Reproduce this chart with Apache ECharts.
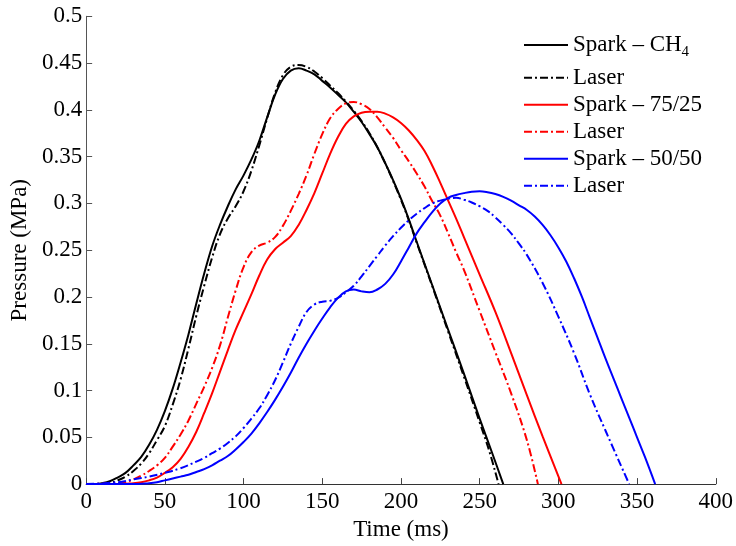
<!DOCTYPE html>
<html>
<head>
<meta charset="utf-8">
<script src="https://cdn.jsdelivr.net/npm/echarts@6/dist/echarts.min.js"></script>
<style>
html, body { margin: 0; padding: 0; background: #fff; }
#mychart { width: 736px; height: 546px; }
</style>
</head>
<body>
<div id="mychart"></div>
<script>
// axis ticks
var timeTicks = [0, 50, 100, 150, 200, 250, 300, 350, 400];
var pressureTicks = [0, 0.05, 0.1, 0.15, 0.2, 0.25, 0.3, 0.35, 0.4, 0.45, 0.5];

// legend names (zero width spaces keep the three "Laser" entries apart)
var seriesNames = ['Spark – CH4', 'Laser', 'Spark – 75/25', 'Laser\u200b', 'Spark – 50/50', 'Laser\u200b\u200b'];

// Spark - CH4
var sparkCh4Time = [0, 5, 10, 15, 20, 25, 30, 35, 40, 45, 50, 55, 60, 65, 70, 75, 80, 85, 90, 95, 100, 105, 110, 115, 120, 125, 130, 135, 140, 145, 150, 155, 160, 165, 170, 175, 180, 185, 190, 195, 200, 205, 210, 220, 230, 240, 250, 258, 265];
var sparkCh4Pressure = [0, 0, 0.001, 0.003, 0.007, 0.012, 0.02, 0.029, 0.042, 0.058, 0.078, 0.102, 0.13, 0.16, 0.193, 0.225, 0.254, 0.277, 0.297, 0.315, 0.33, 0.347, 0.367, 0.392, 0.416, 0.433, 0.442, 0.4445, 0.442, 0.438, 0.431, 0.424, 0.416, 0.408, 0.398, 0.387, 0.374, 0.36, 0.343, 0.325, 0.305, 0.283, 0.259, 0.212, 0.165, 0.118, 0.07, 0.033, 0];
// Laser - CH4
var laserCh4Time = [0, 10, 15, 20, 25, 30, 35, 40, 45, 50, 55, 60, 65, 70, 75, 80, 85, 90, 95, 100, 105, 110, 115, 120, 125, 130, 135, 140, 145, 150, 155, 160, 165, 170, 175, 180, 185, 190, 195, 200, 205, 210, 220, 230, 240, 250, 256, 262];
var laserCh4Pressure = [0, 0, 0.001, 0.004, 0.008, 0.014, 0.022, 0.033, 0.047, 0.062, 0.085, 0.112, 0.145, 0.18, 0.212, 0.242, 0.267, 0.284, 0.297, 0.313, 0.335, 0.362, 0.391, 0.418, 0.437, 0.446, 0.448, 0.446, 0.441, 0.434, 0.426, 0.418, 0.409, 0.399, 0.388, 0.375, 0.36, 0.343, 0.324, 0.304, 0.282, 0.258, 0.211, 0.163, 0.115, 0.066, 0.036, 0];

// Spark - 75/25
var spark7525Time = [0, 20, 30, 35, 40, 45, 50, 55, 60, 65, 70, 75, 80, 85, 90, 95, 100, 105, 110, 115, 120, 125, 130, 135, 140, 145, 150, 155, 160, 165, 170, 175, 180, 185, 190, 195, 200, 205, 210, 215, 220, 225, 230, 235, 240, 250, 260, 270, 280, 290, 302];
var spark7525Pressure = [0, 0, 0.001, 0.002, 0.004, 0.007, 0.012, 0.018, 0.027, 0.04, 0.056, 0.076, 0.097, 0.12, 0.143, 0.165, 0.184, 0.203, 0.223, 0.24, 0.251, 0.258, 0.265, 0.277, 0.293, 0.311, 0.332, 0.353, 0.371, 0.385, 0.393, 0.397, 0.398, 0.398, 0.396, 0.392, 0.386, 0.378, 0.368, 0.356, 0.34, 0.322, 0.303, 0.284, 0.264, 0.224, 0.184, 0.14, 0.095, 0.051, 0];
// Laser - 75/25
var laser7525Time = [0, 20, 25, 30, 35, 40, 45, 50, 55, 60, 65, 70, 75, 80, 85, 90, 95, 100, 105, 110, 115, 120, 125, 130, 135, 140, 145, 150, 155, 160, 165, 170, 175, 180, 185, 190, 195, 200, 205, 210, 215, 220, 225, 230, 235, 240, 250, 260, 270, 280, 287];
var laser7525Pressure = [0, 0.001, 0.002, 0.005, 0.009, 0.014, 0.02, 0.028, 0.04, 0.053, 0.068, 0.086, 0.104, 0.124, 0.148, 0.178, 0.207, 0.232, 0.248, 0.255, 0.258, 0.264, 0.276, 0.292, 0.31, 0.33, 0.353, 0.374, 0.391, 0.401, 0.407, 0.4085, 0.406, 0.401, 0.392, 0.381, 0.37, 0.357, 0.345, 0.332, 0.318, 0.302, 0.287, 0.268, 0.248, 0.229, 0.185, 0.141, 0.097, 0.047, 0];

// Spark - 50/50
var spark5050Time = [0, 30, 40, 45, 50, 55, 60, 65, 70, 75, 80, 85, 90, 95, 100, 105, 110, 115, 120, 125, 130, 135, 140, 145, 150, 155, 160, 165, 170, 175, 180, 185, 190, 195, 200, 205, 210, 215, 220, 225, 230, 235, 240, 245, 250, 255, 260, 265, 270, 275, 280, 285, 290, 295, 300, 305, 310, 315, 320, 325, 330, 335, 340, 345, 350, 355, 361.5];
var spark5050Pressure = [0, 0, 0.001, 0.002, 0.004, 0.006, 0.008, 0.01, 0.013, 0.016, 0.02, 0.025, 0.03, 0.037, 0.045, 0.054, 0.065, 0.077, 0.09, 0.104, 0.119, 0.135, 0.15, 0.164, 0.177, 0.189, 0.199, 0.206, 0.208, 0.206, 0.205, 0.208, 0.214, 0.224, 0.238, 0.253, 0.268, 0.28, 0.291, 0.3, 0.306, 0.309, 0.311, 0.3125, 0.313, 0.312, 0.31, 0.307, 0.303, 0.298, 0.293, 0.286, 0.277, 0.266, 0.253, 0.238, 0.22, 0.2, 0.178, 0.156, 0.134, 0.113, 0.092, 0.071, 0.05, 0.029, 0];
// Laser - 50/50
var laser5050Time = [0, 20, 30, 40, 50, 60, 70, 75, 80, 85, 90, 95, 100, 105, 110, 115, 120, 125, 130, 135, 140, 145, 150, 155, 160, 165, 170, 175, 180, 185, 190, 195, 200, 205, 210, 215, 220, 225, 230, 235, 240, 245, 250, 255, 260, 265, 270, 275, 280, 290, 300, 310, 320, 330, 345];
var laser5050Pressure = [0, 0.002, 0.005, 0.008, 0.012, 0.017, 0.024, 0.028, 0.033, 0.038, 0.044, 0.051, 0.06, 0.07, 0.081, 0.095, 0.111, 0.13, 0.15, 0.168, 0.184, 0.192, 0.195, 0.196, 0.199, 0.205, 0.212, 0.222, 0.233, 0.244, 0.255, 0.265, 0.274, 0.282, 0.289, 0.295, 0.3, 0.303, 0.305, 0.306, 0.304, 0.301, 0.297, 0.292, 0.285, 0.277, 0.268, 0.257, 0.245, 0.215, 0.179, 0.14, 0.096, 0.057, 0];

var serif = '"Liberation Serif", "DejaVu Serif", serif';
var dashDot = [8, 3, 2, 3];

function pairs(xs, ys) {
    return xs.map(function (x, i) { return [x, ys[i]]; });
}

function makeSeries(name, xs, ys, color, type) {
    return {
        name: name,
        type: 'line',
        data: pairs(xs, ys),
        symbol: 'none',
        showSymbol: false,
        smooth: 0.4,
        lineStyle: { color: color, width: 2, type: type },
        itemStyle: { color: color },
        z: 2
    };
}

var legendBase = {
    orient: 'vertical',
    left: 523,
    padding: 0,
    itemWidth: 44,
    itemHeight: 14,
    itemGap: 3,
    itemStyle: { opacity: 0 }
};

var myChart = echarts.init(document.getElementById('mychart'));
myChart.setOption({
    animation: false,
    backgroundColor: '#fff',
    grid: { left: 84, right: 18.4, top: 16.3, bottom: 54.3 },
    legend: [Object.assign({}, legendBase, {
        data: [seriesNames[0]],
        top: 33,
        formatter: function () { return 'Spark – CH{sub|4}'; },
        textStyle: {
            fontFamily: serif, fontSize: 23, color: '#000', lineHeight: 24,
            rich: { sub: { fontFamily: serif, fontSize: 15, color: '#000', padding: [14, 0, 0, 0] } }
        }
    }), Object.assign({}, legendBase, {
        data: seriesNames.slice(1),
        top: 65.7,
        formatter: function (name) { return name.replace(/\u200b/g, ''); },
        textStyle: { fontFamily: serif, fontSize: 23, color: '#000', lineHeight: 24 }
    })],
    xAxis: {
        type: 'value',
        min: timeTicks[0],
        max: timeTicks[timeTicks.length - 1],
        interval: 50,
        name: 'Time (ms)',
        nameLocation: 'middle',
        nameGap: 29,
        nameTextStyle: { fontFamily: serif, fontSize: 23, color: '#000' },
        axisLine: { lineStyle: { color: '#333', width: 1 } },
        axisTick: { inside: true, length: 6, lineStyle: { color: '#444' } },
        axisLabel: { fontFamily: serif, fontSize: 23, color: '#000', margin: 6 },
        splitLine: { show: false }
    },
    yAxis: {
        type: 'value',
        min: pressureTicks[0],
        max: pressureTicks[pressureTicks.length - 1],
        interval: 0.05,
        name: 'Pressure (MPa)',
        nameLocation: 'middle',
        nameGap: 52,
        nameTextStyle: { fontFamily: serif, fontSize: 23, color: '#000' },
        axisLine: { show: true, lineStyle: { color: '#555', width: 1 } },
        axisTick: { show: true, inside: true, length: 6, lineStyle: { color: '#555' } },
        axisLabel: { fontFamily: serif, fontSize: 23, color: '#000', margin: 4 },
        splitLine: { show: false }
    },
    series: [
        makeSeries(seriesNames[0], sparkCh4Time, sparkCh4Pressure, '#000000', 'solid'),
        makeSeries(seriesNames[1], laserCh4Time, laserCh4Pressure, '#000000', dashDot),
        makeSeries(seriesNames[2], spark7525Time, spark7525Pressure, '#ff0000', 'solid'),
        makeSeries(seriesNames[3], laser7525Time, laser7525Pressure, '#ff0000', dashDot),
        makeSeries(seriesNames[4], spark5050Time, spark5050Pressure, '#0000ff', 'solid'),
        makeSeries(seriesNames[5], laser5050Time, laser5050Pressure, '#0000ff', dashDot)
    ]
});
</script>
</body>
</html>
